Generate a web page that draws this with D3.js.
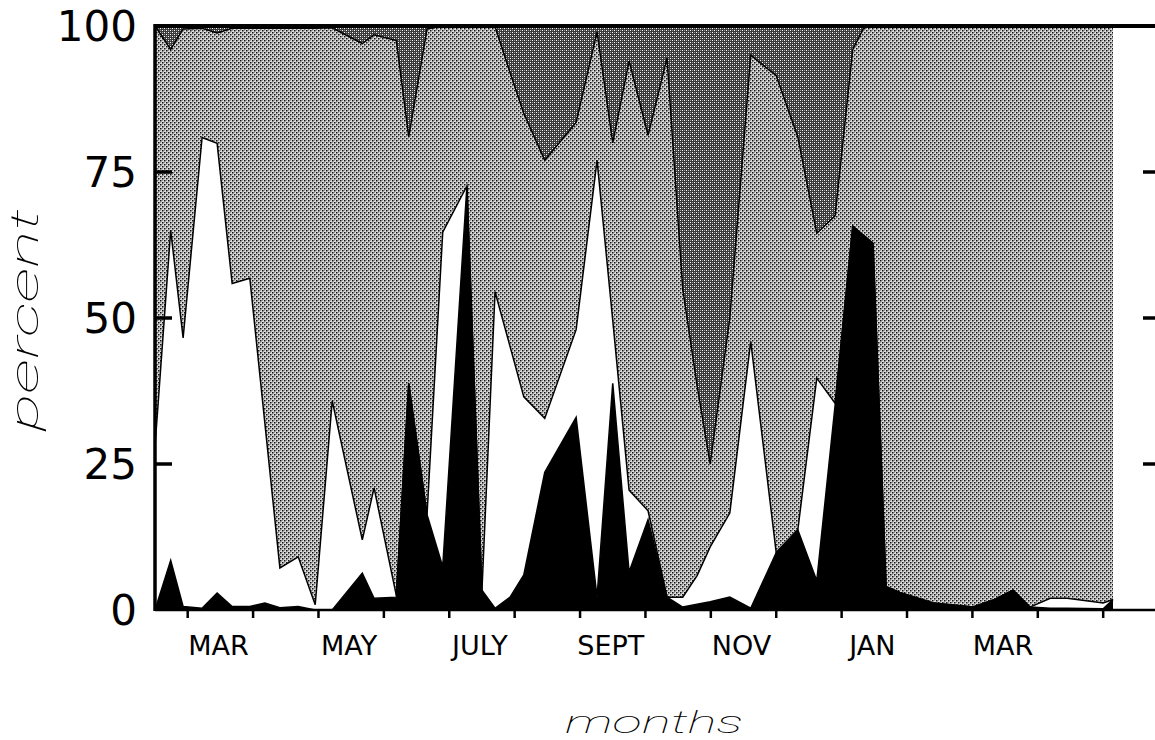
<!DOCTYPE html>
<html><head><meta charset="utf-8">
<script src="https://cdn.jsdelivr.net/npm/d3@7"></script>
<style>body{margin:0;background:#fff}</style>
</head><body><svg id="chart" width="1155" height="740"></svg>
<script>
// sampling times, in months counted from 1 Jan of year 1 (2 = 1 March)
const months = [1.50,1.74,1.93,2.22,2.45,2.68,2.95,3.18,3.41,3.69,3.95,4.21,4.67,4.85,5.19,5.38,5.66,5.90,6.27,6.50,6.70,6.93,7.14,7.46,7.94,8.26,8.50,8.75,9.04,9.33,9.57,9.79,9.99,10.29,10.61,11.00,11.33,11.62,11.90,12.17,12.34,12.48,12.68,12.89,13.40,14.01,14.32,14.62,14.88,15.19,15.45,16.00,16.15];
// percent of each group (bottom to top)
const blackPct = [0,8.5,0.6,0.3,2.9,0.6,0.6,1.2,0.4,0.6,0,0,6.3,2,2.2,38.8,16.3,7.4,72.6,3.4,0.3,2.2,6,23.6,33,2.2,38.8,6.5,15.5,2.2,0.5,1,1.4,2.2,0.3,9.8,13.7,5,35,65.7,64.1,62.8,4,3,1.2,0.5,1.7,3.4,0.5,0.3,0.3,0.2,1.8];
const whitePct = [28,56.5,46,80.6,77,55.3,56.2,30.8,6.8,8.5,0.9,35.8,5.7,18.9,0.3,0,0,57.3,0,0,54.2,42.9,30.5,9.2,15,74.8,10.8,14,1.5,0,1.7,4.9,9.4,14.4,45.7,0,0,34.7,0.4,0,0,0,0,0,0,0,0,0,0,1.7,1.7,1,0];
const lightPct = [72,31,52.9,18.7,18.9,43.7,42.8,67.6,92.4,90.5,98.7,63.9,85,77.6,95,42.2,83.2,35.3,27.4,96.6,45.4,46.9,48.5,44.2,35.5,22,30.4,73.5,64.3,92.3,52.8,32.5,14.2,33.4,49,81.7,67.3,24.8,32.1,30.3,35.6,37.2,96,97,98.8,99.5,98.3,96.6,99.5,98,98,98.8,98.2];
const darkPct  = [0,4,0.5,0.4,1.2,0.4,0.4,0.4,0.4,0.4,0.4,0.3,3,1.5,2.5,19,0.5,0,0,0,0.1,8,15,23,16.5,1,20,6,18.7,5.5,45,61.6,75,50,5,8.5,19,35.5,32.5,4,0.3,0,0,0,0,0,0,0,0,0,0,0,0];

const yTicks = [0,25,50,75,100];
const monthTicks = [2,3,4,5,6,7,8,9,10,11,12,13,14,15,16];
const monthLabels = ["MAR","MAY","JULY","SEPT","NOV","JAN","MAR"];
const monthLabelAt = [2,4,6,8,10,12,14];

const svg = d3.select("#chart");
const X0 = 155, X1 = 1113, XR = 1155, YT = 26, YB = 610;
const x = d3.scaleLinear().domain([1.5, 16.15]).range([X0, X1]);
const y = d3.scaleLinear().domain([0, 100]).range([YB, YT]);

const defs = svg.append("defs");
const pl = defs.append("pattern").attr("id","lightDots").attr("patternUnits","userSpaceOnUse").attr("width",4).attr("height",4);
pl.append("rect").attr("width",4).attr("height",4).attr("fill","#dcdcdc");
pl.append("rect").attr("x",0).attr("y",0).attr("width",1.5).attr("height",1.5).attr("fill","#111");
pl.append("rect").attr("x",2).attr("y",2).attr("width",1.5).attr("height",1.5).attr("fill","#111");
pl.append("rect").attr("x",2).attr("y",0).attr("width",1).attr("height",1).attr("fill","#999");
pl.append("rect").attr("x",0).attr("y",2).attr("width",1).attr("height",1).attr("fill","#999");
const pd = defs.append("pattern").attr("id","darkDots").attr("patternUnits","userSpaceOnUse").attr("width",4).attr("height",4);
pd.append("rect").attr("width",4).attr("height",4).attr("fill","#3a3a3a");
pd.append("rect").attr("x",0).attr("y",0).attr("width",1).attr("height",1).attr("fill","#fff");
pd.append("rect").attr("x",2).attr("y",2).attr("width",1).attr("height",1).attr("fill","#fff");
pd.append("rect").attr("x",2).attr("y",0).attr("width",1).attr("height",1).attr("fill","#999");
pd.append("rect").attr("x",0).attr("y",2).attr("width",1).attr("height",1).attr("fill","#999");

const keys = ["black","white","light","dark"];
const fills = {black:"#000", white:"#fff", light:"url(#lightDots)", dark:"url(#darkDots)"};
const table = months.map((t,i)=>({t, black:blackPct[i], white:whitePct[i], light:lightPct[i], dark:darkPct[i]}));
const series = d3.stack().keys(keys)(table);

const area = d3.area().x(d=>x(d.data.t)).y0(d=>y(d[0])).y1(d=>y(d[1]));
const line = d3.line().x(d=>x(d.data.t)).y(d=>y(d[1]));

svg.append("g").selectAll("path").data(series).join("path")
  .attr("d", area).attr("fill", d=>fills[d.key]);
svg.append("g").selectAll("path").data(series.filter(s=>s.key!=="dark")).join("path")
  .attr("d", line).attr("fill","none").attr("stroke","#000").attr("stroke-width",1.5).attr("stroke-linejoin","miter");

// frame
const g = svg.append("g").attr("stroke","#000");
g.append("line").attr("x1",X0).attr("x2",X0).attr("y1",YT-2).attr("y2",YB+1).attr("stroke-width",3.5);
g.append("line").attr("x1",X0).attr("x2",XR).attr("y1",YT).attr("y2",YT).attr("stroke-width",4);
g.append("line").attr("x1",X0).attr("x2",XR).attr("y1",YB).attr("y2",YB).attr("stroke-width",2.5);
g.selectAll(".lt").data(yTicks.filter(v=>v>0&&v<100)).join("line")
  .attr("x1",X0).attr("x2",X0+17).attr("y1",d=>y(d)).attr("y2",d=>y(d)).attr("stroke-width",3.5);
g.selectAll(".rt").data(yTicks.filter(v=>v>0&&v<100)).join("line")
  .attr("x1",XR-12).attr("x2",XR).attr("y1",d=>y(d)).attr("y2",d=>y(d)).attr("stroke-width",3.5);
g.selectAll(".bt").data(monthTicks).join("line")
  .attr("x1",d=>x(d)).attr("x2",d=>x(d)).attr("y1",YB).attr("y2",YB+8).attr("stroke-width",2.5);

svg.append("g").selectAll("text").data(yTicks).join("text")
  .attr("x",137).attr("y",d=>y(d)).attr("dy","0.36em").attr("text-anchor","end")
  .attr("font-family","DejaVu Sans, sans-serif").attr("font-size",42).text(d=>d);

svg.append("g").selectAll("text").data(monthLabels).join("text")
  .attr("x",(d,i)=>x(monthLabelAt[i]+0.5)-2).attr("y",655).attr("text-anchor","middle")
  .attr("font-family","DejaVu Sans, sans-serif").attr("font-size",27).text(d=>d);

svg.append("text").attr("transform","translate(38,320) rotate(-90)").attr("text-anchor","middle")
  .attr("font-family","Roboto, DejaVu Sans, sans-serif").attr("font-style","italic").attr("font-weight",100)
  .attr("font-size",38).attr("textLength",222).attr("lengthAdjust","spacingAndGlyphs").text("percent");
svg.append("text").attr("x",654).attr("y",733).attr("text-anchor","middle")
  .attr("font-family","Roboto, DejaVu Sans, sans-serif").attr("font-style","italic").attr("font-weight",100)
  .attr("font-size",32).attr("textLength",178).attr("lengthAdjust","spacingAndGlyphs").text("months");
</script></body></html>
